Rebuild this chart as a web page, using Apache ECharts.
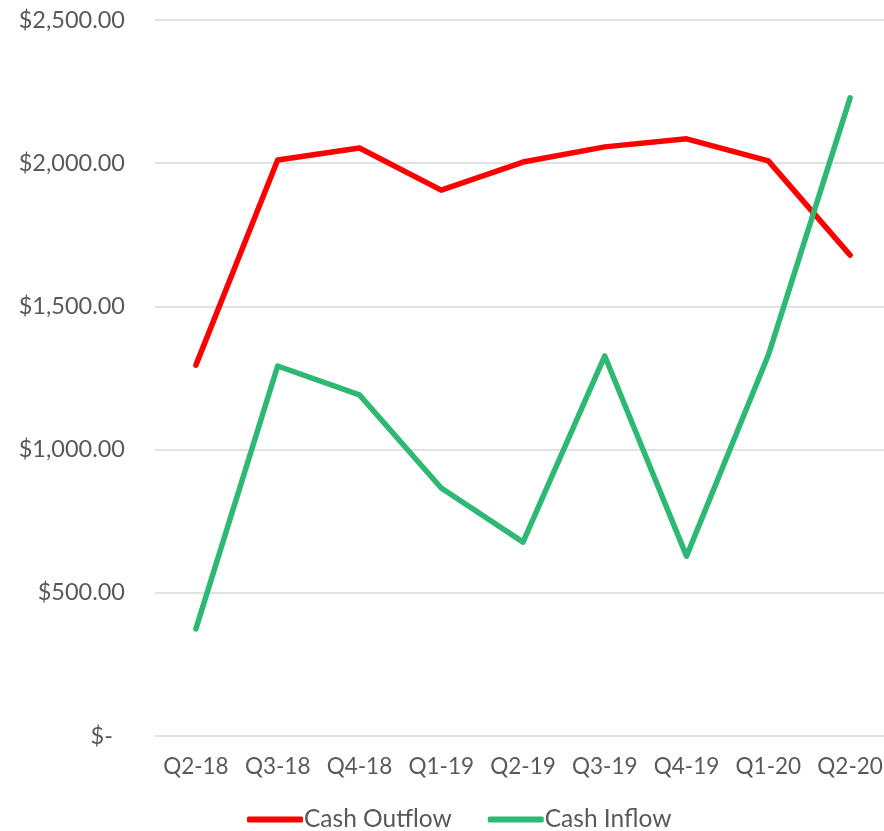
<!DOCTYPE html>
<html>
<head>
<meta charset="utf-8">
<script src="https://cdn.jsdelivr.net/npm/echarts@6/dist/echarts.min.js"></script>
<style>html,body{margin:0;padding:0;background:#fff}#c{width:884px;height:831px}</style>
</head>
<body>
<div id="c"></div>
<script>
const categories = ['Q2-18','Q3-18','Q4-18','Q1-19','Q2-19','Q3-19','Q4-19','Q1-20','Q2-20'];
const cashOutflow = [1295, 2011, 2053, 1906, 2004, 2057, 2085, 2008, 1679];
const cashInflow = [374, 1292, 1191, 866, 677, 1327, 628, 1330, 2228];

const chart = echarts.init(document.getElementById('c'));
const font = 'Lato';
chart.setOption({
  animation: false,
  grid: { left: 155, width: 736, top: 20, bottom: 95, containLabel: false, outerBoundsMode: 'none' },
  xAxis: {
    type: 'category', data: categories, boundaryGap: true,
    axisLine: { show: false }, axisTick: { show: false },
    axisLabel: { color: '#595959', fontSize: 22.5, fontFamily: font, margin: 19, interval: 0, hideOverlap: false }
  },
  yAxis: {
    type: 'value', min: 0, max: 2500, interval: 500,
    axisLine: { show: false }, axisTick: { show: false },
    splitLine: { lineStyle: { color: '#d9d9d9', width: 1.5 } },
    axisLabel: {
      color: '#595959', fontSize: 23.5, fontFamily: font, margin: 30,
      formatter: v => v === 0 ? '$-  ' : '$' + v.toLocaleString('en-US', {minimumFractionDigits: 2, maximumFractionDigits: 2})
    }
  },
  legend: {
    bottom: -6, left: 242, itemGap: 36, itemWidth: 56, itemHeight: 6,
    icon: 'roundRect',
    textStyle: { color: '#595959', fontSize: 24.5, fontFamily: font, padding: [0,0,0,-4] },
    data: ['Cash Outflow', 'Cash Inflow']
  },
  series: [
    { name: 'Cash Outflow', type: 'line', data: cashOutflow, showSymbol: false, symbol: 'none',
      lineStyle: { color: '#ff0000', width: 5.5, cap: 'round', join: 'round' }, itemStyle: { color: '#ff0000' } },
    { name: 'Cash Inflow', type: 'line', data: cashInflow, showSymbol: false, symbol: 'none',
      lineStyle: { color: '#2db873', width: 5.5, cap: 'round', join: 'round' }, itemStyle: { color: '#2db873' } }
  ]
});
</script>
</body>
</html>
